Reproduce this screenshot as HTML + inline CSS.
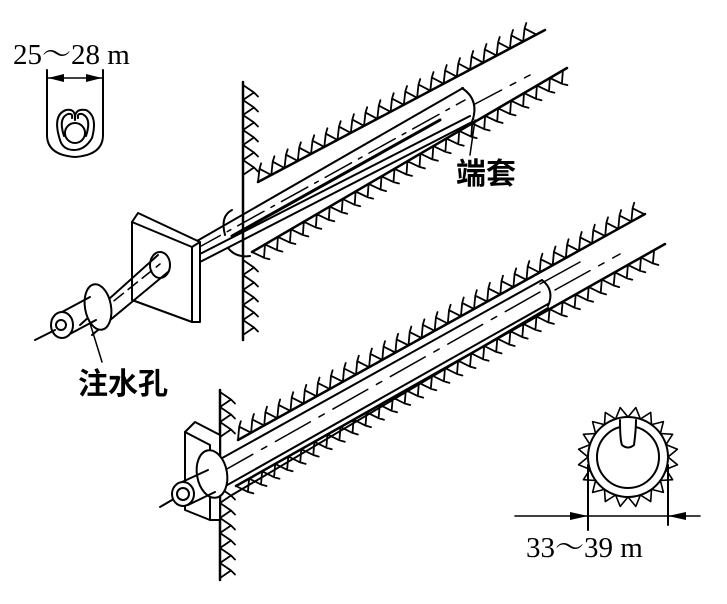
<!DOCTYPE html>
<html><head><meta charset="utf-8"><style>
html,body{margin:0;padding:0;background:#fff;width:727px;height:604px;overflow:hidden}
svg{display:block}
text{font-family:"Liberation Serif","Noto Serif CJK SC",serif;fill:#000}
.cj{font-family:"Liberation Sans","Noto Sans CJK SC",sans-serif;font-weight:bold}
</style></head><body>
<svg id="s" width="727" height="604" viewBox="0 0 727 604" xmlns="http://www.w3.org/2000/svg" fill="none" stroke="#000" stroke-width="2" stroke-linecap="round" stroke-linejoin="round">
<g id="h"></g>
<line x1="243" y1="82" x2="243" y2="340" stroke-width="2.5"/>
<line x1="258" y1="182" x2="545" y2="30" stroke-width="2.5"/>
<line x1="252" y1="252" x2="567" y2="68" stroke-width="2.5"/>
<path d="M190,245 L463,88 M196,256 L470,116 M200,262 L472,122" />
<path d="M194,250 L465,100" stroke-dasharray="30 8 4 8" stroke-width="1.5"/>
<path d="M232,236 L440,120" stroke-width="3"/>
<path d="M462,88 Q480,100 472,122" />
<path d="M475,104 L530,75" stroke-dasharray="30 10 6 10" stroke-width="1.5"/>
<path d="M232,210 Q220,216 225,235"/>
<path d="M228,248 Q236,258 250,256"/>
<path d="M132,222 L138,213 L200,242 L200,322 L192,322 Z" fill="#fff"/>
<path d="M132,222 L192,247 L192,322 L132,300 Z" fill="#fff"/>
<line x1="192" y1="247" x2="200" y2="242"/>
<ellipse cx="160" cy="265" rx="10" ry="13" fill="#fff"/>
<path d="M80,325 L158,255 M92,335 L168,272" />
<path d="M100,312 L160,264" stroke-dasharray="12 6" stroke-width="1.5"/>
<ellipse cx="98" cy="307" rx="13" ry="23" fill="#fff" transform="rotate(-10 98 307)"/>
<path d="M62,312 L90,297 M68,335 L96,320"/>
<ellipse cx="62" cy="325" rx="11" ry="13" fill="#fff"/>
<circle cx="61" cy="325" r="5"/>
<line x1="35" y1="340" x2="55" y2="330"/>
<line x1="89" y1="320" x2="102" y2="362" stroke-width="1.5"/>
<line x1="475" y1="120" x2="470" y2="155" stroke-width="1.5"/>
<text x="78" y="394" class="cj" font-size="30" stroke="none">注水孔</text>
<text x="456" y="184" class="cj" font-size="30" stroke="none">端套</text>
<text x="13" y="64" font-size="29" stroke="none">25～28 m</text>
<path d="M47,70 L47,135 Q47,155 75,157 Q103,155 103,135 L103,70"/>
<line x1="47" y1="78" x2="103" y2="78" stroke-width="1.5"/>
<path d="M48,78 L64,74 L64,82 Z M102,78 L86,74 L86,82 Z" fill="#000" stroke="none"/>
<path d="M60,140 Q52,115 66,110 Q76,108 75,120 Q74,108 86,110 Q98,116 92,138 Q85,150 74,150 Q63,150 60,140 Z"/>
<path d="M64,136 Q58,118 68,114 Q73,113 72,118 M86,136 Q92,118 82,114 Q77,113 78,118"/>
<circle cx="75" cy="133" r="10"/>
<line x1="220" y1="390" x2="220" y2="580" stroke-width="2.5"/>
<line x1="238" y1="440" x2="645" y2="214" stroke-width="2.5"/>
<line x1="236" y1="486" x2="665" y2="244" stroke-width="2.5"/>
<path d="M215,462 L542,280 M222,488 L548,304 M232,495 L548,308"/>
<path d="M218,474 L540,292" stroke-dasharray="40 10 6 10" stroke-width="1.5"/>
<path d="M542,280 Q555,290 548,306"/>
<path d="M555,290 L620,254" stroke-dasharray="40 10 6 10" stroke-width="1.5"/>
<path d="M580,262 L540,284" stroke-width="1.5"/>
<path d="M185,432 L195,422 L220,435 L220,520 L210,520 L185,510 Z" fill="#fff"/>
<path d="M185,432 L210,445 L210,520" />
<ellipse cx="212" cy="474" rx="15" ry="24" fill="#fff" transform="rotate(-10 212 474)"/>
<path d="M182,482 L208,470 M188,505 L215,492"/>
<ellipse cx="183" cy="494" rx="11" ry="12" fill="#fff"/>
<circle cx="183" cy="494" r="6"/>
<line x1="160" y1="507" x2="172" y2="500"/>
<circle cx="628" cy="457" r="40"/>
<circle cx="628" cy="457" r="31"/>
<path d="M620,420 Q620,440 622,445 Q628,450 634,445 Q636,430 636,420" fill="#fff"/>
<line x1="588" y1="465" x2="588" y2="530"/>
<line x1="668" y1="465" x2="668" y2="525"/>
<line x1="515" y1="516" x2="700" y2="516" stroke-width="1.5"/>
<path d="M588,516 L570,512 L570,520 Z M668,516 L686,512 L686,520 Z" fill="#000" stroke="none"/>
<text x="526" y="557" font-size="29" stroke="none">33～39 m</text>
</svg>
<script>
var g=document.getElementById('h'),ns='http://www.w3.org/2000/svg';
function zz(x1,y1,x2,y2,side,amp,per){
 var dx=x2-x1,dy=y2-y1,L=Math.hypot(dx,dy),ux=dx/L,uy=dy/L,nx=-uy*side,ny=ux*side;
 var d='M'+x1+','+y1,n=Math.floor(L/per);
 for(var i=0;i<n;i++){var t=i*per,tm=t+per/2,te=t+per;
  d+=' L'+(x1+ux*tm+nx*amp).toFixed(1)+','+(y1+uy*tm+ny*amp).toFixed(1)+' L'+(x1+ux*te).toFixed(1)+','+(y1+uy*te).toFixed(1);
  var px=x1+ux*tm+nx*amp,py=y1+uy*tm+ny*amp;
  d+=' M'+px.toFixed(1)+','+py.toFixed(1)+' L'+(px+nx*4+ux*4).toFixed(1)+','+(py+ny*4+uy*4).toFixed(1)+' M'+(x1+ux*te).toFixed(1)+','+(y1+uy*te).toFixed(1);}
 var p=document.createElementNS(ns,'path');p.setAttribute('d',d);p.setAttribute('stroke-width','1.8');g.appendChild(p);}
zz(243,85,243,180,-1,11,15);
zz(243,260,243,338,-1,11,15);
zz(258,182,545,30,-1,11,15);
zz(252,252,567,68,1,11,15);
zz(220,392,220,440,-1,11,15);
zz(220,488,220,578,-1,11,15);
zz(238,440,645,214,-1,11,15);
zz(236,486,665,244,1,11,15);
var d='';for(var a=0;a<360;a+=18){var r1=40,r2=50,a1=a*Math.PI/180,a2=(a+9)*Math.PI/180,a3=(a+18)*Math.PI/180;
 d+='M'+(628+r1*Math.cos(a1)).toFixed(1)+','+(457+r1*Math.sin(a1)).toFixed(1)+' L'+(628+r2*Math.cos(a2)).toFixed(1)+','+(457+r2*Math.sin(a2)).toFixed(1)+' L'+(628+r1*Math.cos(a3)).toFixed(1)+','+(457+r1*Math.sin(a3)).toFixed(1);}
var p=document.createElementNS(ns,'path');p.setAttribute('d',d);p.setAttribute('stroke-width','1.6');g.appendChild(p);
</script>
</body></html>
